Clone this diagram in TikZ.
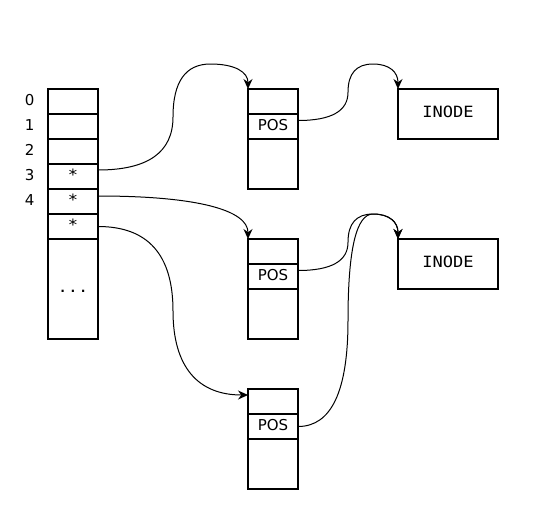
\documentclass[tikz,border=0pt]{standalone}
\usepackage{fontspec}
\setmainfont{DejaVu Sans}
\newfontfamily\monofnt[FakeStretch=1.1]{DejaVu Sans Mono}
\usetikzlibrary{arrows.meta,calc}
\begin{document}
\begin{tikzpicture}[x=1pt,y=-1pt,
  cell/.style={draw,line width=1.1pt,minimum width=50pt,minimum height=25pt,inner sep=0pt,outer sep=0pt,
    font=\fontsize{15}{18}\selectfont,execute at begin node=\strut},
  tall/.style={cell,minimum height=50pt},
  big/.style={cell,minimum height=100pt},
  inode/.style={cell,minimum width=100pt,minimum height=50pt,font=\monofnt\fontsize{15.5}{18}\selectfont},
  mono/.style={font=\monofnt\fontsize{15.5}{18}\selectfont},
  idx/.style={inner sep=0pt,font=\fontsize{15}{18}\selectfont,execute at begin node=\strut},
  conn/.style={line width=1pt,-{Stealth[length=10pt,width=9pt]}}]
\useasboundingbox (0,0) rectangle (541,520);
% index array
\node[cell] (a0) at (73,101.5) {};
\node[cell] (a1) at (73,126.5) {};
\node[cell] (a2) at (73,151.5) {};
\node[cell,mono] (a3) at (73,176.5) {*};
\node[cell,mono] (a4) at (73,201.5) {*};
\node[cell,mono] (a5) at (73,226.5) {*};
\node[big,mono] (a6) at (73,289) {...};
\node[idx] (l0) at (29.7,101.5) {0};
\node[idx] (l1) at (29.7,126.5) {1};
\node[idx] (l2) at (29.7,151.5) {2};
\node[idx] (l3) at (29.7,176.5) {3};
\node[idx] (l4) at (29.7,201.5) {4};
% file tables
\node[cell] (t1a) at (273,101.5) {};
\node[cell] (t1b) at (273,126.5) {POS};
\node[tall] (t1c) at (273,164) {};
\node[cell] (t2a) at (273,251.5) {};
\node[cell] (t2b) at (273,276.5) {POS};
\node[tall] (t2c) at (273,314) {};
\node[cell] (t3a) at (273,401.5) {};
\node[cell] (t3b) at (273,426.5) {POS};
\node[tall] (t3c) at (273,464) {};
% inodes
\node[inode] (i1) at (448,114) {INODE};
\node[inode] (i2) at (448,264) {INODE};
% connectors
\draw[conn] ([yshift=6.5pt]a3.east) .. controls (148,170) and (173,152.3) .. (173,117)
  .. controls (173,81.7) and (185.5,64) .. (210.5,64)
  .. controls (235.5,64) and (248,72.3) .. (t1a.north west);
\draw[conn] ([yshift=5.5pt]a4.east) .. controls (198,196) and (248,210.3) .. (t2a.north west);
\draw[conn] (a5.east) .. controls (148,226.5) and (173,254.7) .. (173,311)
  .. controls (173,367) and (198,395) .. ([yshift=6.5pt]t3a.west);
\draw[conn] ([yshift=6pt]t1b.east) .. controls (331.3,120.5) and (348,111.1) .. (348,92.3)
  .. controls (348,73.4) and (356.3,64) .. (373,64)
  .. controls (389.7,64) and (398,72.3) .. (i1.north west);
\draw[conn] ([yshift=6pt]t2b.east) .. controls (331.3,270.5) and (348,261.1) .. (348,242.3)
  .. controls (348,223.4) and (356.3,214) .. (373,214)
  .. controls (389.7,214) and (398,222.3) .. (i2.north west);
\draw[conn] (t3b.east) .. controls (331.3,426.5) and (348,391.3) .. (348,320.3)
  .. controls (348,249.4) and (356.3,214) .. (373,214)
  .. controls (389.7,214) and (398,222.3) .. (i2.north west);
\end{tikzpicture}
\end{document}
